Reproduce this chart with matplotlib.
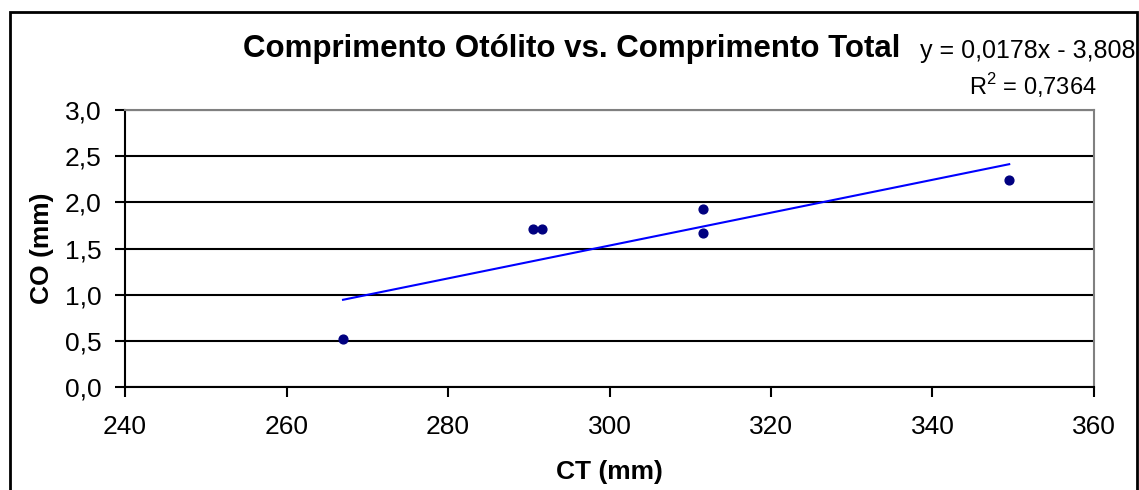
import matplotlib
matplotlib.use("Agg")
import matplotlib.pyplot as plt
from matplotlib.patches import Rectangle
from matplotlib.ticker import FuncFormatter
import numpy as np

plt.rcParams['font.family'] = ['Liberation Sans', 'DejaVu Sans']
plt.rcParams['mathtext.fontset'] = 'custom'
plt.rcParams['mathtext.rm'] = 'Liberation Sans'

# comprimento total (mm) e comprimento do otólito (mm)
ct = [267, 290.5, 291.6, 311.6, 311.6, 349.5]
co = [0.52, 1.71, 1.71, 1.93, 1.67, 2.24]
slope, intercept = 0.0178, -3.808
eq_text = "y = 0,0178x - 3,808"
r2_text = "R$^\\mathrm{2}$ = 0,7364"

fig = plt.figure(figsize=(11.39, 4.9), dpi=100)
ax = fig.add_axes([125/1139, 1 - 387/490, (1094 - 125)/1139, (387 - 110)/490])

# moldura externa do gráfico
fig.patches.append(Rectangle((10/1139, -0.05), 1127/1139, 1.05 - 12/490,
                             transform=fig.transFigure, fill=False,
                             edgecolor='black', linewidth=2))

ax.scatter(ct, co, s=40, color='#000080', zorder=3)
xt = np.array([min(ct), max(ct)])
ax.plot(xt, slope * xt + intercept, color='#0000ff', linewidth=1.5, zorder=2)

ax.set_xlim(240, 360)
ax.set_ylim(0, 3.0)
ax.set_xticks(range(240, 361, 20))
ax.set_yticks(np.arange(0, 3.01, 0.5))
ax.yaxis.set_major_formatter(FuncFormatter(lambda v, p: f"{v:.1f}".replace('.', ',')))
ax.grid(axis='y', color='black', linewidth=1.5)
ax.set_axisbelow(True)
for s in ['top', 'right']:
    ax.spines[s].set_color('#808080')
    ax.spines[s].set_linewidth(1.5)
for s in ['left', 'bottom']:
    ax.spines[s].set_linewidth(1.5)
ax.tick_params(labelsize=19, length=7, width=1.5, direction='out')
ax.tick_params(axis='x', pad=13)
ax.tick_params(axis='y', pad=10)

ax.set_xlabel('CT (mm)', fontsize=19, fontweight='bold', labelpad=15)
ax.set_ylabel('CO (mm)', fontsize=19, fontweight='bold', labelpad=8)

fig.text(572/1139, 1 - 49/490, 'Comprimento Otólito vs. Comprimento Total',
         fontsize=22.5, fontweight='bold', ha='center', va='center')
fig.text(1135/1139, 1 - 51/490, eq_text, fontsize=18, ha='right', va='center')
fig.text(1097/1139, 1 - 86/490, r2_text, fontsize=17, ha='right', va='center')

fig.savefig('out.png', dpi=100)
